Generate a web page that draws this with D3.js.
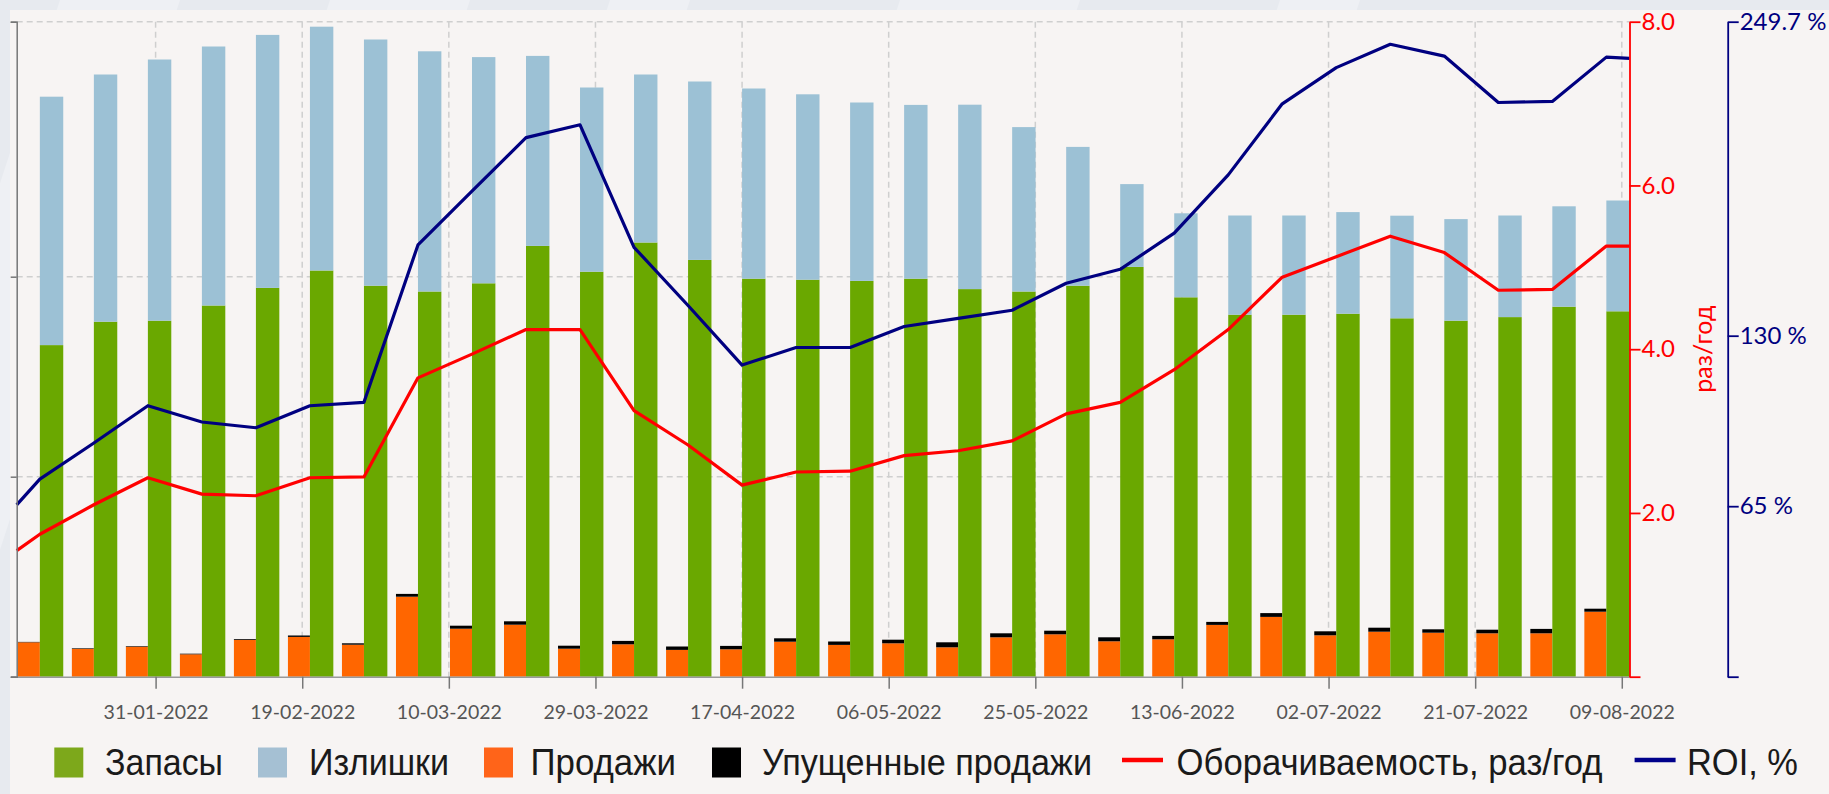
<!DOCTYPE html>
<html>
<head>
<meta charset="utf-8">
<script src="https://cdn.jsdelivr.net/npm/d3@7"></script>
<style>
    body { margin: 0; background: #e8ebf0; overflow: hidden; }
    svg { display: block; }
</style>
</head>
<body>
<svg id="chart" width="1829" height="794"></svg>
<script>
// weekly points (group centres)
const weeks = ["16-01-2022", "23-01-2022", "30-01-2022", "06-02-2022", "13-02-2022", "20-02-2022",
    "27-02-2022", "06-03-2022", "13-03-2022", "20-03-2022", "27-03-2022", "03-04-2022", "10-04-2022",
    "17-04-2022", "24-04-2022", "01-05-2022", "08-05-2022", "15-05-2022", "22-05-2022", "29-05-2022",
    "05-06-2022", "12-06-2022", "19-06-2022", "26-06-2022", "03-07-2022", "10-07-2022", "17-07-2022",
    "24-07-2022", "31-07-2022", "07-08-2022"]
const rangeStart = "13-01-2022"
const rangeEnd = "10-08-2022"
const tickLabels = ["31-01-2022", "19-02-2022", "10-03-2022", "29-03-2022", "17-04-2022", "06-05-2022",
    "25-05-2022", "13-06-2022", "02-07-2022", "21-07-2022", "09-08-2022"]

const stock = [165.8, 177.5, 178, 185.6, 194.4, 203.1, 195.5, 192.6, 196.7, 215.4, 202.5, 217.1, 208.4, 199,
    198.5, 197.9, 199, 193.8, 192.6, 195.5, 204.9, 189.7, 181, 181, 181.5, 179.2, 178, 179.8, 185, 182.7]
const surplus = [124.2, 123.6, 130.6, 129.5, 126.5, 121.9, 123.1, 120.1, 113.1, 95, 92.1, 84, 89.2, 95.1,
    92.7, 89.2, 86.9, 92.2, 82.2, 69.4, 41.4, 42, 49.6, 49.6, 50.8, 51.3, 50.8, 50.8, 50.2, 55.4]
const sales = [17.2, 13.9, 15, 11.2, 18.4, 19.9, 16, 40, 24, 26, 14, 16.2, 13.4, 13.7, 17.5, 15.9, 16.7,
    14.7, 19.7, 21.2, 17.7, 18.7, 25.9, 29.9, 20.7, 22.5, 22, 21.7, 21.7, 32.5]
const lostSales = [0.2, 0.3, 0.3, 0.3, 0.4, 0.7, 0.7, 1.4, 1.5, 1.7, 1.5, 1.7, 1.7, 1.7, 1.7, 1.7, 1.8,
    2.5, 2, 1.8, 2, 1.7, 1.5, 1.9, 2, 2, 1.7, 1.8, 2.2, 1.5]

// lines: first and last value sit on the plot edges (rangeStart / rangeEnd)
const turnover = [1.54, 1.74, 2.10, 2.43, 2.23, 2.21, 2.43, 2.44, 3.65, 3.94, 4.24, 4.24, 3.25, 2.83, 2.34,
    2.50, 2.51, 2.70, 2.76, 2.88, 3.21, 3.35, 3.75, 4.24, 4.88, 5.13, 5.38, 5.18, 4.72, 4.73, 5.26, 5.26]
const roi = [65.5, 75.3, 89.1, 103.3, 97.1, 94.9, 103.3, 104.6, 164.6, 185.1, 205.5, 210.4, 163.7, 141.5,
    118.8, 125.5, 125.5, 133.5, 136.6, 139.7, 150.0, 155.3, 169.1, 191.3, 218.4, 232.2, 241.1, 236.6, 218.9,
    219.3, 236.2, 235.7]

const leftTicks = [0, 100, 200, 327.5]
const turnoverTicks = [0, 2, 4, 6, 8]
const roiTicks = [0, 65, 130, 249.7]

const legendNames = ["Запасы", "Излишки", "Продажи", "Упущенные продажи", "Оборачиваемость, раз/год", "ROI, %"]
const legendTypes = ["rect", "rect", "rect", "rect", "line", "line"]
const legendColors = ["#7da81b", "#a5c0d3", "#ff6419", "#000000", "#ff0000", "#00008b"]

// legend layout: swatch start, text start and text end
const legendLayout = [
    [54.3, 105, 223], [258, 309, 449], [484, 530.5, 676],
    [712, 762, 1092], [1122, 1176.6, 1602.6], [1634.6, 1687, 1798]
]

const GREEN = "#6aa800"
const BLUE = "#9cc1d5"
const ORANGE = "#ff6600"
const RED = "#ff0000"
const NAVY = "#000080"

const parseDate = d3.timeParse("%d-%m-%Y")
const formatDate = d3.timeFormat("%d-%m-%Y")

const margin = {top: 21.7, left: 16.7, right: 1829 - 1629.5, bottom: 794 - 676.7}
const width = 1829
const height = 794

let svg = d3.select("#chart")

// page background with light diagonal bands, then the chart panel
let bg = svg.append("g")
bg.append("rect").attr("width", width).attr("height", height).attr("fill", "#e7eaef")
;[[60, 180], [330, 470], [610, 690], [900, 1080], [1280, 1360]].forEach(b => {
    bg.append("polygon")
        .attr("points", `${b[0]},0 ${b[1]},0 ${b[1] - 260},${height} ${b[0] - 260},${height}`)
        .attr("fill", "#eef0f4")
})
bg.append("rect")
    .attr("x", 10).attr("y", 10)
    .attr("width", width - 10).attr("height", height - 10)
    .attr("fill", "#f7f4f3")

let x = d3.scaleTime()
    .domain([parseDate(rangeStart), parseDate(rangeEnd)])
    .range([margin.left, width - margin.right])

let yLeft = d3.scaleLinear()
    .domain([0, 327.5])
    .range([height - margin.bottom, margin.top])
let yTurn = d3.scaleLinear()
    .domain([0, 8])
    .range([height - margin.bottom, margin.top])
let yRoi = d3.scaleLinear()
    .domain([0, 249.7])
    .range([height - margin.bottom, margin.top])

const tickDates = tickLabels.map(parseDate)
const weekDates = weeks.map(parseDate)
const lineDates = [parseDate(rangeStart)].concat(weekDates).concat([parseDate(rangeEnd)])

// grid
let grid = svg.append("g")
    .attr("stroke", "#cfcfcf")
    .attr("stroke-width", 1.5)
    .attr("stroke-dasharray", "6,4")
grid.selectAll(".hgrid")
    .data(leftTicks.filter(d => d > 0))
    .join("line")
    .attr("x1", margin.left)
    .attr("x2", width - margin.right)
    .attr("y1", d => yLeft(d))
    .attr("y2", d => yLeft(d))
grid.selectAll(".vgrid")
    .data(tickDates)
    .join("line")
    .attr("x1", d => x(d))
    .attr("x2", d => x(d))
    .attr("y1", margin.top)
    .attr("y2", height - margin.bottom)

const orangeW = 22
const greenW = 23.4

let bars = svg.append("g")
let groups = bars.selectAll(".week")
    .data(weekDates.map((d, i) => ({date: d, i: i})))
    .join("g")
    .classed("week", true)

groups.append("rect")
    .attr("x", d => x(d.date) - orangeW)
    .attr("width", orangeW)
    .attr("y", d => yLeft(sales[d.i]))
    .attr("height", d => yLeft(0) - yLeft(sales[d.i]))
    .attr("fill", ORANGE)
groups.append("rect")
    .attr("x", d => x(d.date) - orangeW)
    .attr("width", orangeW)
    .attr("y", d => yLeft(sales[d.i] + lostSales[d.i]))
    .attr("height", d => yLeft(sales[d.i]) - yLeft(sales[d.i] + lostSales[d.i]))
    .attr("fill", "#000")
groups.append("rect")
    .attr("x", d => x(d.date))
    .attr("width", greenW)
    .attr("y", d => yLeft(stock[d.i]))
    .attr("height", d => yLeft(0) - yLeft(stock[d.i]))
    .attr("fill", GREEN)
groups.append("rect")
    .attr("x", d => x(d.date))
    .attr("width", greenW)
    .attr("y", d => yLeft(stock[d.i] + surplus[d.i]))
    .attr("height", d => yLeft(stock[d.i]) - yLeft(stock[d.i] + surplus[d.i]))
    .attr("fill", BLUE)

// lines
let lineTurn = d3.line()
    .x((d, i) => x(lineDates[i]))
    .y(d => yTurn(d))
let lineRoi = d3.line()
    .x((d, i) => x(lineDates[i]))
    .y(d => yRoi(d))

svg.append("path")
    .datum(turnover)
    .attr("d", lineTurn)
    .attr("fill", "none")
    .attr("stroke", RED)
    .attr("stroke-width", 3.2)
    .attr("stroke-linejoin", "round")
svg.append("path")
    .datum(roi)
    .attr("d", lineRoi)
    .attr("fill", "none")
    .attr("stroke", NAVY)
    .attr("stroke-width", 3.2)
    .attr("stroke-linejoin", "round")

// axes
let gBottom = svg.append("g")
    .attr("transform", `translate(0,${height - margin.bottom})`)
    .call(d3.axisBottom(x)
        .tickValues(tickDates)
        .tickFormat(formatDate)
        .tickSize(12)
        .tickSizeOuter(0)
        .tickPadding(16))
gBottom.select(".domain")
    .attr("d", `M11,0.5H${width - margin.right}`)
    .attr("stroke", "#999")
    .attr("stroke-width", 1.5)
gBottom.selectAll(".tick line").attr("stroke", "#777").attr("stroke-width", 1.5)
gBottom.selectAll(".tick text")
    .attr("fill", "#555")
    .style("font-family", "Lato")
    .style("font-size", "19.5px")

let gLeft = svg.append("g")
    .attr("transform", `translate(${margin.left},0)`)
    .call(d3.axisLeft(yLeft)
        .tickValues(leftTicks)
        .tickFormat("")
        .tickSize(6)
        .tickSizeOuter(6))
gLeft.selectAll("path, line").attr("stroke", "#777").attr("stroke-width", 1.5)

let gTurn = svg.append("g")
    .attr("transform", `translate(${width - margin.right},0)`)
    .call(d3.axisRight(yTurn)
        .tickValues(turnoverTicks)
        .tickFormat(d => d === 0 ? "" : d3.format(".1f")(d))
        .tickSize(11)
        .tickSizeOuter(0)
        .tickPadding(1))
gTurn.selectAll("path, line").attr("stroke", RED).attr("stroke-width", 1.8)
gTurn.selectAll(".tick text")
    .attr("fill", RED)
    .style("font-family", "Lato")
    .style("font-size", "24px")
gTurn.append("text")
    .attr("transform", `translate(${1703 - (width - margin.right)},${yTurn(4)}) rotate(-90)`)
    .attr("text-anchor", "middle")
    .attr("dy", "0.35em")
    .attr("fill", RED)
    .style("font-family", "Lato")
    .style("font-size", "25px")
    .text("раз/год")

let gRoi = svg.append("g")
    .attr("transform", `translate(1727.7,0)`)
    .call(d3.axisRight(yRoi)
        .tickValues(roiTicks)
        .tickFormat(d => d === 0 ? "" : d + " %")
        .tickSize(11)
        .tickSizeOuter(0)
        .tickPadding(1))
gRoi.selectAll("path, line").attr("stroke", NAVY).attr("stroke-width", 1.8)
gRoi.selectAll(".tick text")
    .attr("fill", NAVY)
    .style("font-family", "Lato")
    .style("font-size", "24px")

// legend
let legend = svg.append("g")
    .style("font-family", "'Liberation Sans', Arial, sans-serif")
    .style("font-size", "36px")
legendNames.forEach((name, i) => {
    let [sx, tx, te] = legendLayout[i]
    let g = legend.append("g")
    if (legendTypes[i] == "rect") {
        g.append("rect")
            .attr("x", sx).attr("y", 747.5)
            .attr("width", 29).attr("height", 30)
            .attr("fill", legendColors[i])
    } else {
        g.append("line")
            .attr("x1", sx).attr("x2", sx + 41)
            .attr("y1", 760).attr("y2", 760)
            .attr("stroke", legendColors[i])
            .attr("stroke-width", 4.5)
    }
    g.append("text")
        .attr("x", tx).attr("y", 775)
        .attr("fill", "#1a1a1a")
        .attr("textLength", te - tx)
        .attr("lengthAdjust", "spacingAndGlyphs")
        .text(name)
})
</script>
</body>
</html>
